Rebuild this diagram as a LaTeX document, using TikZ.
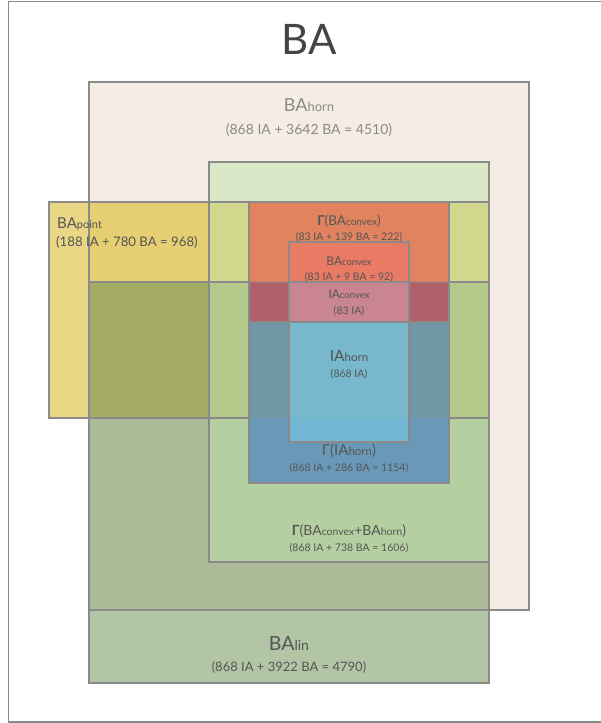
\documentclass[tikz,border=0pt]{standalone}
\usepackage{fontspec}
\setmainfont{Lato}
\definecolor{beige}{HTML}{F5EDE3}
\definecolor{lgreen}{HTML}{DBE8C8}
\definecolor{ygreen}{HTML}{D2D98F}
\definecolor{yel}{HTML}{E9D786}
\definecolor{yelb}{HTML}{E6CF72}
\definecolor{olive}{HTML}{A3AB62}
\definecolor{cdb}{HTML}{B3C98A}
\definecolor{dbg}{HTML}{B5D0A0}
\definecolor{dbeige}{HTML}{ADBB98}
\definecolor{donly}{HTML}{B2C6A6}
\definecolor{orng}{HTML}{E0835E}
\definecolor{crim}{HTML}{B0606A}
\definecolor{salmon}{HTML}{E97A66}
\definecolor{pinkc}{HTML}{C98590}
\definecolor{blueu}{HTML}{6F97A6}
\definecolor{bluel}{HTML}{6A99B8}
\definecolor{lblueu}{HTML}{77B8CC}
\definecolor{lbluel}{HTML}{72B8D4}
\definecolor{edgec}{HTML}{8A8A8A}
\definecolor{txt}{HTML}{555555}
\definecolor{txtl}{HTML}{8A8A8A}
\definecolor{ttl}{HTML}{444444}
\newcommand{\sm}[2]{{\fontsize{#1}{#1}\selectfont #2}}
\tikzset{
  edge/.style={draw=edgec, line width=1.3pt},
  lbl/.style={anchor=base, inner sep=0pt, text=txt},
}
\begin{document}
\begin{tikzpicture}[x=1pt,y=-1pt]
\useasboundingbox (0,0) rectangle (600,723);
\fill[white] (0,0) rectangle (600,723);
% frame
\draw[draw=edgec, line width=1.5pt] (8.5,1.5) rectangle (612,722);
% flattened fills of A, B, C, D
\fill[beige] (89,82) rectangle (529,610);
\fill[donly] (89,282) rectangle (489,683);
\fill[dbeige] (89,282) rectangle (489,610);
\fill[lgreen] (209,162) rectangle (489,282);
\fill[dbg] (209,282) rectangle (489,562);
\fill[yel] (49,202) rectangle (89,418);
\fill[yelb] (89,202) rectangle (209,282);
\fill[ygreen] (209,202) rectangle (489,282);
\fill[olive] (89,282) rectangle (209,418);
\fill[cdb] (209,282) rectangle (489,418);
% outlines of A, B, C, D
\draw[edge] (89,82) rectangle (529,610);
\draw[edge] (209,162) rectangle (489,562);
\draw[edge] (49,202) rectangle (489,418);
\draw[edge] (89,282) rectangle (489,683);
% Gamma(BAconvex)
\fill[orng] (249,202) rectangle (449,282);
\fill[crim] (249,282) rectangle (449,322);
\draw[edge, draw opacity=0.35] (249,282) -- (449,282);
\draw[edge] (249,202) rectangle (449,322);
% Gamma(IAhorn)
\fill[blueu] (249,322) rectangle (449,418);
\fill[bluel] (249,418) rectangle (449,483);
\draw[edge] (249,322) rectangle (449,483);
% BAconvex, IAconvex, IAhorn
\fill[salmon] (289,242) rectangle (409,282);
\fill[pinkc] (289,282) rectangle (409,322);
\fill[lblueu] (289,322) rectangle (409,418);
\fill[lbluel] (289,418) rectangle (409,442);
\draw[edge] (289,242) rectangle (409,282);
\draw[edge] (289,282) rectangle (409,322);
\draw[edge] (289,322) rectangle (409,442);
% labels
\node[lbl, text=ttl, font=\fontsize{42}{42}\selectfont] (title) at (309,54) {BA};
\node[lbl, text=txtl, font=\fontsize{18}{18}\selectfont] (hornA) at (309,111) {BA\sm{13}{horn}};
\node[lbl, text=txtl, font=\fontsize{14}{14}\selectfont] (hornB) at (309,134) {(868 IA + 3642 BA = 4510)};
\node[lbl, anchor=base west, font=\fontsize{15}{15}\selectfont] (pointA) at (57,228) {BA\sm{11}{point}};
\node[lbl, anchor=base west, font=\fontsize{13.2}{13.2}\selectfont] (pointB) at (56,246) {(188 IA + 780 BA = 968)};
\node[lbl, font=\fontsize{13.5}{13.5}\selectfont] (gbcA) at (349,225) {\textbf{Γ}(BA\sm{10}{convex})};
\node[lbl, font=\fontsize{10.5}{10.5}\selectfont] (gbcB) at (349,240) {(83 IA + 139 BA = 222)};
\node[lbl, font=\fontsize{12}{12}\selectfont] (bcA) at (349,265) {BA\sm{9.5}{convex}};
\node[lbl, font=\fontsize{10.5}{10.5}\selectfont] (bcB) at (349,280) {(83 IA + 9 BA = 92)};
\node[lbl, font=\fontsize{12}{12}\selectfont] (icA) at (349,298.5) {IA\sm{9.5}{convex}};
\node[lbl, font=\fontsize{10.5}{10.5}\selectfont] (icB) at (349,314) {(83 IA)};
\node[lbl, font=\fontsize{15.5}{15.5}\selectfont] (ihA) at (349,361) {IA\sm{11.5}{horn}};
\node[lbl, font=\fontsize{10.5}{10.5}\selectfont] (ihB) at (349,377) {(868 IA)};
\node[lbl, font=\fontsize{15}{15}\selectfont] (gihA) at (349,455) {Γ(IA\sm{11.5}{horn})};
\node[lbl, font=\fontsize{10.5}{10.5}\selectfont] (gihB) at (349,471) {(868 IA + 286 BA = 1154)};
\node[lbl, font=\fontsize{14}{14}\selectfont] (gbbA) at (349,535) {\textbf{Γ}(BA\sm{10.5}{convex}+BA\sm{10.5}{horn})};
\node[lbl, font=\fontsize{10.5}{10.5}\selectfont] (gbbB) at (349,551) {(868 IA + 738 BA = 1606)};
\node[lbl, font=\fontsize{19.5}{19.5}\selectfont] (linA) at (289,650) {BA\sm{14}{lin}};
\node[lbl, font=\fontsize{13}{13}\selectfont] (linB) at (289,671) {(868 IA + 3922 BA = 4790)};
\end{tikzpicture}
\end{document}
